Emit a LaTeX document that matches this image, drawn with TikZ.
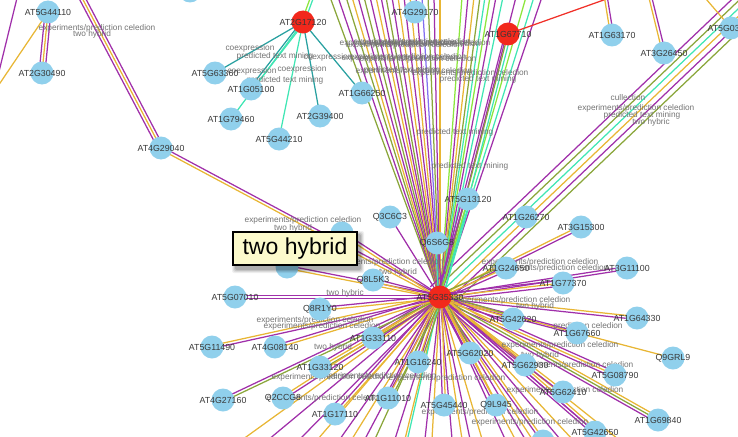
\documentclass[tikz,border=0pt]{standalone}
\usepackage{fontspec}
\setmainfont{Liberation Sans}
\usetikzlibrary{calc}

\definecolor{pe}{RGB}{160,48,170}
\definecolor{ge}{RGB}{232,182,52}
\definecolor{oe}{RGB}{138,166,58}
\definecolor{ae}{RGB}{64,230,180}
\definecolor{le}{RGB}{140,230,60}
\definecolor{te}{RGB}{40,160,160}
\definecolor{ve}{RGB}{130,110,240}
\definecolor{re}{RGB}{240,48,40}
\definecolor{nodeblue}{RGB}{144,208,236}
\definecolor{nodered}{RGB}{242,40,28}
\definecolor{tipfill}{RGB}{252,250,204}

\tikzset{
  gene/.style={circle,fill=nodeblue,minimum size=23pt,inner sep=0pt},
  redgene/.style={gene,fill=nodered},
  glabel/.style={font=\fontsize{8.8}{9}\selectfont,text=black!78,inner sep=0pt},
  edge/.style={line width=1.25pt},
  elabel/.style={font=\fontsize{8.3}{9}\selectfont,text=black!55,inner sep=0pt},
  tip/.style={draw=black,line width=1.6pt,fill=tipfill,
    font=\fontsize{23}{24}\selectfont,inner sep=0pt,
    minimum width=124pt,minimum height=33pt}
}

% all genes: \G{name}{position}{printed name}{style}
\newcommand{\genelist}{%
  \G{n44110}{48,12}{AT5G44110}{gene}
  \G{n30490}{42,73}{AT2G30490}{gene}
  \G{ntopl}{190,-9}{}{gene}
  \G{n29040}{161,148}{AT4G29040}{gene}
  \G{n63360}{215,73}{AT5G63360}{gene}
  \G{n05100}{251,89}{AT1G05100}{gene}
  \G{n79460}{231,119}{AT1G79460}{gene}
  \G{n44210}{279,139}{AT5G44210}{gene}
  \G{n39400}{320,116}{AT2G39400}{gene}
  \G{n66250}{362,93}{AT1G66250}{gene}
  \G{n29170}{415,12}{AT4G29170}{gene}
  \G{r17120}{303,22}{AT2G17120}{redgene}
  \G{r67710}{508,34}{AT1G67710}{redgene}
  \G{n63170}{612,35}{AT1G63170}{gene}
  \G{n26450}{664,53}{AT3G26450}{gene}
  \G{n03280}{731,28}{AT5G03280}{gene}
  \G{n13120}{468,199}{AT5G13120}{gene}
  \G{q3c}{390,217}{Q3C6C3}{gene}
  \G{q6s}{437,243}{Q6S6G8}{gene}
  \G{n26270}{526,217}{AT1G26270}{gene}
  \G{n15300}{581,227}{AT3G15300}{gene}
  \G{nh1}{342,233}{}{gene}
  \G{nh2}{287,267}{}{gene}
  \G{nh3}{373,280}{Q8L5K3}{gene}
  \G{n24650}{506,268}{AT1G24650}{gene}
  \G{n11100}{627,268}{AT3G11100}{gene}
  \G{n77370}{563,283}{AT1G77370}{gene}
  \G{n07010}{235,297}{AT5G07010}{gene}
  \G{q8r}{320,309}{Q8R1Y0}{gene}
  \G{n64330}{637,318}{AT1G64330}{gene}
  \G{n67660}{577,333}{AT1G67660}{gene}
  \G{n42620}{513,319}{AT5G42620}{gene}
  \G{n11490}{212,347}{AT5G11490}{gene}
  \G{n08140}{275,347}{AT4G08140}{gene}
  \G{n33110}{373,338}{AT1G33110}{gene}
  \G{n16240}{418,362}{AT1G16240}{gene}
  \G{n62020}{470,353}{AT5G62020}{gene}
  \G{q9g}{673,358}{Q9GRL9}{gene}
  \G{n62930}{525,365}{AT5G62930}{gene}
  \G{n08790}{615,375}{AT5G08790}{gene}
  \G{n33120}{320,367}{AT1G33120}{gene}
  \G{n27160}{223,400}{AT4G27160}{gene}
  \G{q2c}{283,398}{Q2CCG8}{gene}
  \G{n11010}{388,398}{AT1G11010}{gene}
  \G{n17110}{335,414}{AT1G17110}{gene}
  \G{n45440}{444,405}{AT5G45440}{gene}
  \G{q9l}{496,405}{Q9L945}{gene}
  \G{n62410}{563,392}{AT5G62410}{gene}
  \G{n69840}{658,420}{AT1G69840}{gene}
  \G{n42650}{595,432}{AT5G42650}{gene}
  \G{nbot}{543,441}{}{gene}
  \G{hub}{440,297}{AT5G35330}{redgene}
}

% several parallel interaction lines between two points, one per evidence colour
\newcommand{\bundle}[4][2.9]{%
  \foreach \cc [count=\k] in {#4}{\global\let\nb\k}%
  \foreach \cc [count=\k] in {#4}{%
    \pgfmathsetmacro{\off}{(\k-(\nb+1)/2)*#1}%
    \draw[edge,draw=\cc] ($(#2)!\off pt!90:(#3)$) -- ($(#3)!\off pt!-90:(#2)$);
  }}

\newcommand{\el}[3]{\node[elabel] at (#1,#2) {#3};}

\begin{document}
\begin{tikzpicture}[x=1pt,y=-1pt]
\useasboundingbox (0,0) rectangle (738,436);

% ---------------- gene centres ----------------
\def\G#1#2#3#4{\coordinate (#1) at (#2);}
\genelist

% off-picture ends of lines
\coordinate (tl) at (80,-6);
\coordinate (ltop) at (18,-6);
\coordinate (lleft) at (-6,92);
\coordinate (r17up) at (314,-8);
\coordinate (r67up) at (660,-20);
\coordinate (c63) at (605,-8);
\coordinate (c26) at (649,-8);
\coordinate (c03) at (700,-8);
\coordinate (corner) at (762,-10);
\coordinate (bl1) at (228,450);
\coordinate (bl2) at (256,450);
\coordinate (aqbot) at (405,450);

% ---------------- connectors ----------------
% lines leaving the hub through the top edge
\foreach \x/\c [count=\i] in {330/oe,338/pe,346/oe,352/ge,358/pe,364/oe,370/pe,376/ge,
    381/pe,386/oe,392/pe,398/ge,404/pe,410/ge,416/pe,422/ve,428/oe,434/pe,440/ge,
    462/le,468/pe,474/ge,480/oe,485/ae,490/le,496/pe,503/ae,516/pe,526/le,534/ae,542/pe}{
  \coordinate (top\i) at (\x,-3);
  \draw[edge,draw=\c] (hub) -- (top\i);
}
% lines leaving the hub through the bottom edge
\foreach \x/\c [count=\i] in {300/pe,318/ge,340/pe,352/ge,365/pe,375/oe,395/pe,405/ge,
    425/pe,432/ge,452/pe,462/ge,470/pe,482/ge,505/pe,515/ge,525/pe,532/ge,560/pe,
    572/ge,603/pe,618/ge}{
  \coordinate (bot\i) at (\x,439);
  \draw[edge,draw=\c] (hub) -- (bot\i);
}
\draw[edge,draw=ge] (hub) -- (bl1);
\draw[edge,draw=pe] (hub) -- (bl2);
\draw[edge,draw=ae] (hub) -- (aqbot);

% broad bundle running to the upper right corner
\bundle[5.6]{hub}{corner}{oe,pe,ge,ae,oe,pe}
\bundle{hub}{r67710}{ae,oe,pe}
\bundle{hub}{n29040}{pe,ge}
\bundle{hub}{nh1}{pe,ge}
\bundle{hub}{nh2}{pe,ge}
\bundle{hub}{nh3}{pe,ge}
\bundle{hub}{q3c}{pe}
\bundle{hub}{q6s}{pe,ae}
\bundle{hub}{n13120}{ae,le,pe}
\bundle{hub}{n15300}{pe,ge}
\bundle{hub}{n24650}{pe,ge,oe}
\bundle{hub}{n11100}{pe,pe}
\bundle{hub}{n77370}{pe,ge,pe}
\bundle{hub}{n64330}{pe,ge}
\bundle{hub}{q9g}{ge}
\bundle{hub}{n67660}{pe,pe}
\bundle{hub}{n42620}{pe,ge,oe}
\bundle{hub}{n08790}{pe,ge,pe}
\bundle{hub}{n69840}{pe,oe,ge}
\bundle{hub}{n62410}{pe,ge}
\bundle{hub}{n42650}{pe,pe,ge}
\bundle{hub}{n62930}{pe,ge}
\bundle{hub}{nbot}{pe,ge}
\bundle{hub}{q9l}{pe,ge}
\bundle{hub}{n62020}{pe,ge,oe}
\bundle{hub}{n45440}{pe,ge}
\bundle{hub}{n16240}{pe,ge,oe}
\bundle{hub}{n11010}{pe,ge,oe}
\bundle{hub}{n17110}{pe,ge}
\bundle{hub}{n33110}{pe,ge}
\bundle{hub}{n33120}{pe,ge,oe}
\bundle{hub}{q2c}{ge,pe}
\bundle{hub}{n27160}{pe,oe}
\bundle{hub}{n08140}{pe,ge}
\bundle{hub}{n11490}{ge,pe}
\bundle{hub}{q8r}{pe,ge}
\bundle{hub}{n07010}{pe,pe}

\bundle{n29040}{tl}{pe,ge,pe}
\bundle{n44110}{n30490}{pe,ge,pe}
\draw[edge,draw=ge] (n44110) -- (lleft);
\draw[edge,draw=pe] (ltop) -- (lleft);

\bundle{r17120}{n63360}{te}
\bundle{r17120}{n05100}{te,ae}
\bundle{r17120}{n79460}{ae}
\bundle{r17120}{n44210}{ae}
\bundle{r17120}{n39400}{te}
\bundle{r17120}{n66250}{te}
\bundle{r17120}{r17up}{ae,le}
\draw[edge,draw=re] (r67710) -- (r67up);
\bundle{n63170}{c63}{pe,ge}
\bundle{n26450}{c26}{pe,ge}
\draw[edge,draw=ge] (n03280) -- (c03);

% ---------------- evidence labels on the connectors ----------------
\el{97}{28}{experiments/prediction celedion}
\el{92}{34}{two hybrid}
\el{250}{48}{coexpression}
\el{275}{56}{predicted text mining}
\el{328}{57}{coexpression}
\el{252}{71}{coexpression}
\el{302}{69}{coexpression}
\el{285}{80}{predicted text mining}
\foreach \dx/\dy in {0/0,6/2,14/-1,24/1,34/0}{\el{398+\dx}{43+\dy}{experiments/prediction celedion}}
\foreach \dx/\dy in {0/0,8/-1,18/1}{\el{400+\dx}{58+\dy}{experiments/prediction celedion}}
\el{402}{70}{predicted text mining}
\el{414}{71}{experiments/prediction celedion}
\el{470}{73}{experiments/prediction celedion}
\el{478}{79}{predicted text mining}
\el{455}{132}{predicted text mining}
\el{470}{166}{predicted text mining}
\el{628}{98}{cullection}
\el{636}{108}{experiments/prediction celedion}
\el{642}{115}{predicted text mining}
\el{651}{122}{two hybric}
\el{303}{220}{experiments/prediction celedion}
\el{293}{228}{two hybrid}
\el{385}{262}{experiments/prediction celedion}
\el{398}{272}{two hybrid}
\el{345}{293}{two hybric}
\el{315}{320}{experiments/prediction celedion}
\el{322}{326}{experiments/prediction celedion}
\el{333}{347}{two hybrid}
\el{330}{377}{experiments/prediction celedion}
\el{378}{376}{experiments/prediction celedion}
\el{447}{378}{experiments/prediction celedion}
\el{325}{398}{experiments/prediction celedion}
\el{480}{412}{experiments/prediction celedion}
\el{540}{262}{experiments/prediction celedion}
\el{550}{268}{experiments/prediction celedion}
\el{512}{300}{experiments/prediction celedion}
\el{535}{306}{two hybrid}
\el{588}{326}{prediction celedion}
\el{560}{345}{experiments/prediction celedion}
\el{540}{355}{two hybrid}
\el{575}{365}{experiments/prediction celedion}
\el{565}{390}{experiments/prediction celedion}
\el{530}{422}{experiments/prediction celedion}

% ---------------- gene discs with their names ----------------
\def\G#1#2#3#4{\node[#4,label={[glabel]center:#3}] (#1-disc) at (#1) {};}
\genelist

% ---------------- hover tooltip ----------------
\coordinate (tipc) at (295,248.5);
\foreach \s/\o in {4/0.06,3/0.08,2/0.10,1/0.12}{
  \fill[black,opacity=\o,rounded corners=2pt]
    ($(tipc)+(-62+3-\s,-16.5+3-\s)$) rectangle ($(tipc)+(62+3+\s,16.5+4+\s)$);
}
\node[tip] (tooltip) at (tipc) {two hybrid};
\end{tikzpicture}
\end{document}
